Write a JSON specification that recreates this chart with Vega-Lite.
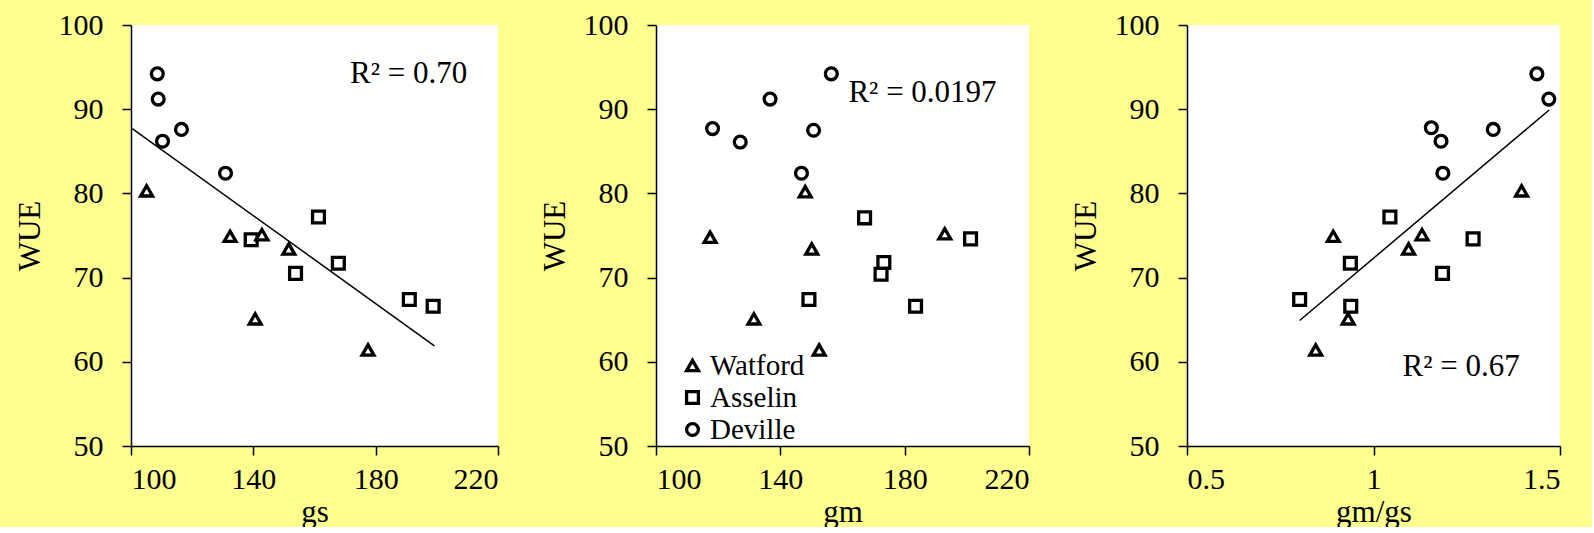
{
  "$schema": "https://vega.github.io/schema/vega-lite/v6.json",
  "background": "#FFFF90",
  "padding": {"left": 14, "top": 10, "right": 30, "bottom": 0},
  "bounds": "flush",
  "spacing": 158,
  "config": {
    "font": "Liberation Serif",
    "view": {"fill": "white", "stroke": null},
    "axis": {
      "grid": false,
      "domainColor": "black",
      "domainWidth": 1.5,
      "tickColor": "black",
      "tickWidth": 1.5,
      "tickSize": 9,
      "labelFont": "Liberation Serif",
      "labelFontSize": 30,
      "labelColor": "black",
      "titleFont": "Liberation Serif",
      "titleFontSize": 31,
      "titleFontWeight": "normal",
      "titleColor": "black"
    },
    "axisX": {"labelPadding": 9, "titlePadding": 3, "labelFont": "Liberation Serif", "titleFont": "Liberation Serif"},
    "axisY": {"labelPadding": 19, "titlePadding": 12, "labelFont": "Liberation Serif", "titleFont": "Liberation Serif"},
    "legend": {"labelFont": "Liberation Serif", "titleFont": "Liberation Serif"},
    "text": {"font": "Liberation Serif"}
  },
  "resolve": {
    "scale": {"x": "independent", "y": "independent", "shape": "independent"},
    "legend": {"shape": "independent"}
  },
  "datasets": {
    "gs_pts": [
      {"cultivar": "Deville", "gs": 108.6, "WUE": 94.2},
      {"cultivar": "Deville", "gs": 108.9, "WUE": 91.2},
      {"cultivar": "Deville", "gs": 110.3, "WUE": 86.2},
      {"cultivar": "Deville", "gs": 116.5, "WUE": 87.6},
      {"cultivar": "Deville", "gs": 130.9, "WUE": 82.4},
      {"cultivar": "Watford", "gs": 105.1, "WUE": 80.3},
      {"cultivar": "Watford", "gs": 132.4, "WUE": 74.9},
      {"cultivar": "Watford", "gs": 142.8, "WUE": 75.1},
      {"cultivar": "Watford", "gs": 151.6, "WUE": 73.4},
      {"cultivar": "Watford", "gs": 140.6, "WUE": 65.1},
      {"cultivar": "Watford", "gs": 177.5, "WUE": 61.4},
      {"cultivar": "Asselin", "gs": 139.3, "WUE": 74.5},
      {"cultivar": "Asselin", "gs": 161.3, "WUE": 77.2},
      {"cultivar": "Asselin", "gs": 153.8, "WUE": 70.5},
      {"cultivar": "Asselin", "gs": 167.8, "WUE": 71.7},
      {"cultivar": "Asselin", "gs": 191.0, "WUE": 67.4},
      {"cultivar": "Asselin", "gs": 198.8, "WUE": 66.6}
    ],
    "gs_fit": [
      {"gs": 100.4, "WUE": 87.7},
      {"gs": 199.2, "WUE": 61.9}
    ],
    "gs_lab": [{"gs": 171.6, "WUE": 94.2, "label": "R² = 0.70"}],
    "gm_pts": [
      {"cultivar": "Deville", "gm": 156.4, "WUE": 94.2},
      {"cultivar": "Deville", "gm": 136.7, "WUE": 91.2},
      {"cultivar": "Deville", "gm": 118.2, "WUE": 87.7},
      {"cultivar": "Deville", "gm": 127.1, "WUE": 86.1},
      {"cultivar": "Deville", "gm": 150.7, "WUE": 87.5},
      {"cultivar": "Deville", "gm": 146.8, "WUE": 82.4},
      {"cultivar": "Watford", "gm": 148.0, "WUE": 80.2},
      {"cultivar": "Watford", "gm": 117.4, "WUE": 74.8},
      {"cultivar": "Watford", "gm": 150.1, "WUE": 73.4},
      {"cultivar": "Watford", "gm": 192.9, "WUE": 75.2},
      {"cultivar": "Watford", "gm": 131.5, "WUE": 65.1},
      {"cultivar": "Watford", "gm": 152.5, "WUE": 61.4},
      {"cultivar": "Asselin", "gm": 167.1, "WUE": 77.1},
      {"cultivar": "Asselin", "gm": 201.2, "WUE": 74.6},
      {"cultivar": "Asselin", "gm": 173.3, "WUE": 71.8},
      {"cultivar": "Asselin", "gm": 172.4, "WUE": 70.4},
      {"cultivar": "Asselin", "gm": 149.2, "WUE": 67.4},
      {"cultivar": "Asselin", "gm": 183.5, "WUE": 66.6}
    ],
    "gm_lab": [{"gm": 161.9, "WUE": 91.9, "label": "R² = 0.0197"}],
    "ratio_pts": [
      {"cultivar": "Deville", "gm_gs": 1.438, "WUE": 94.2},
      {"cultivar": "Deville", "gm_gs": 1.470, "WUE": 91.2},
      {"cultivar": "Deville", "gm_gs": 1.155, "WUE": 87.8},
      {"cultivar": "Deville", "gm_gs": 1.181, "WUE": 86.2},
      {"cultivar": "Deville", "gm_gs": 1.321, "WUE": 87.6},
      {"cultivar": "Deville", "gm_gs": 1.186, "WUE": 82.4},
      {"cultivar": "Watford", "gm_gs": 1.397, "WUE": 80.3},
      {"cultivar": "Watford", "gm_gs": 0.892, "WUE": 74.9},
      {"cultivar": "Watford", "gm_gs": 1.130, "WUE": 75.1},
      {"cultivar": "Watford", "gm_gs": 1.094, "WUE": 73.4},
      {"cultivar": "Watford", "gm_gs": 0.932, "WUE": 65.1},
      {"cultivar": "Watford", "gm_gs": 0.845, "WUE": 61.4},
      {"cultivar": "Asselin", "gm_gs": 1.044, "WUE": 77.2},
      {"cultivar": "Asselin", "gm_gs": 1.267, "WUE": 74.6},
      {"cultivar": "Asselin", "gm_gs": 0.938, "WUE": 71.7},
      {"cultivar": "Asselin", "gm_gs": 1.185, "WUE": 70.5},
      {"cultivar": "Asselin", "gm_gs": 0.802, "WUE": 67.4},
      {"cultivar": "Asselin", "gm_gs": 0.939, "WUE": 66.6}
    ],
    "ratio_fit": [
      {"gm_gs": 0.802, "WUE": 64.9},
      {"gm_gs": 1.471, "WUE": 89.9}
    ],
    "ratio_lab": [{"gm_gs": 1.078, "WUE": 59.4, "label": "R² = 0.67"}]
  },
  "hconcat": [
    {
      "width": 367,
      "height": 421,
      "layer": [
        {
          "data": {"name": "gs_fit"},
          "mark": {"type": "line", "color": "black", "strokeWidth": 1.5},
          "encoding": {
            "x": {"field": "gs", "type": "quantitative", "scale": {"domain": [100, 220]}, "axis": {"values": [100, 140, 180, 220], "title": "gs", "labelFont": "Liberation Serif", "titleFont": "Liberation Serif"}},
            "y": {"field": "WUE", "type": "quantitative", "scale": {"domain": [50, 100]}, "axis": {"values": [50, 60, 70, 80, 90, 100], "title": "WUE", "labelFont": "Liberation Serif", "titleFont": "Liberation Serif"}}
          }
        },
        {
          "data": {"name": "gs_pts"},
          "mark": {"type": "point", "filled": false, "stroke": "black", "strokeWidth": 3.3, "size": 140, "opacity": 1},
          "encoding": {
            "x": {"field": "gs", "type": "quantitative"},
            "y": {"field": "WUE", "type": "quantitative"},
            "shape": {"field": "cultivar", "type": "nominal", "scale": {"domain": ["Watford", "Asselin", "Deville"], "range": ["triangle-up", "square", "circle"]}, "legend": null}
          }
        },
        {
          "data": {"name": "gs_lab"},
          "mark": {"type": "text", "align": "left", "baseline": "middle", "fontSize": 31, "font": "Liberation Serif", "color": "black"},
          "encoding": {
            "x": {"field": "gs", "type": "quantitative"},
            "y": {"field": "WUE", "type": "quantitative"},
            "text": {"field": "label"}
          }
        }
      ]
    },
    {
      "width": 373,
      "height": 421,
      "layer": [
        {
          "data": {"name": "gm_pts"},
          "mark": {"type": "point", "filled": false, "stroke": "black", "strokeWidth": 3.3, "size": 140, "opacity": 1},
          "encoding": {
            "x": {"field": "gm", "type": "quantitative", "scale": {"domain": [100, 220]}, "axis": {"values": [100, 140, 180, 220], "title": "gm", "labelFont": "Liberation Serif", "titleFont": "Liberation Serif"}},
            "y": {"field": "WUE", "type": "quantitative", "scale": {"domain": [50, 100]}, "axis": {"values": [50, 60, 70, 80, 90, 100], "title": "WUE", "labelFont": "Liberation Serif", "titleFont": "Liberation Serif"}},
            "shape": {
              "field": "cultivar", "type": "nominal",
              "scale": {"domain": ["Watford", "Asselin", "Deville"], "range": ["triangle-up", "square", "circle"]},
              "legend": {
                "orient": "none", "legendX": 22, "legendY": 326, "title": null, "padding": 0,
                "labelFont": "Liberation Serif", "labelFontSize": 29, "labelColor": "black", "labelOffset": 3,
                "symbolStrokeColor": "black", "symbolStrokeWidth": 3.3, "symbolSize": 140, "symbolFillColor": "transparent",
                "rowPadding": 2
              }
            }
          }
        },
        {
          "data": {"name": "gm_lab"},
          "mark": {"type": "text", "align": "left", "baseline": "middle", "fontSize": 31, "font": "Liberation Serif", "color": "black"},
          "encoding": {
            "x": {"field": "gm", "type": "quantitative"},
            "y": {"field": "WUE", "type": "quantitative"},
            "text": {"field": "label"}
          }
        }
      ]
    },
    {
      "width": 373,
      "height": 421,
      "layer": [
        {
          "data": {"name": "ratio_fit"},
          "mark": {"type": "line", "color": "black", "strokeWidth": 1.5},
          "encoding": {
            "x": {"field": "gm_gs", "type": "quantitative", "scale": {"domain": [0.5, 1.5]}, "axis": {"values": [0.5, 1, 1.5], "format": "~g", "title": "gm/gs", "labelFont": "Liberation Serif", "titleFont": "Liberation Serif"}},
            "y": {"field": "WUE", "type": "quantitative", "scale": {"domain": [50, 100]}, "axis": {"values": [50, 60, 70, 80, 90, 100], "title": "WUE", "labelFont": "Liberation Serif", "titleFont": "Liberation Serif"}}
          }
        },
        {
          "data": {"name": "ratio_pts"},
          "mark": {"type": "point", "filled": false, "stroke": "black", "strokeWidth": 3.3, "size": 140, "opacity": 1},
          "encoding": {
            "x": {"field": "gm_gs", "type": "quantitative"},
            "y": {"field": "WUE", "type": "quantitative"},
            "shape": {"field": "cultivar", "type": "nominal", "scale": {"domain": ["Watford", "Asselin", "Deville"], "range": ["triangle-up", "square", "circle"]}, "legend": null}
          }
        },
        {
          "data": {"name": "ratio_lab"},
          "mark": {"type": "text", "align": "left", "baseline": "middle", "fontSize": 31, "font": "Liberation Serif", "color": "black"},
          "encoding": {
            "x": {"field": "gm_gs", "type": "quantitative"},
            "y": {"field": "WUE", "type": "quantitative"},
            "text": {"field": "label"}
          }
        }
      ]
    }
  ]
}
